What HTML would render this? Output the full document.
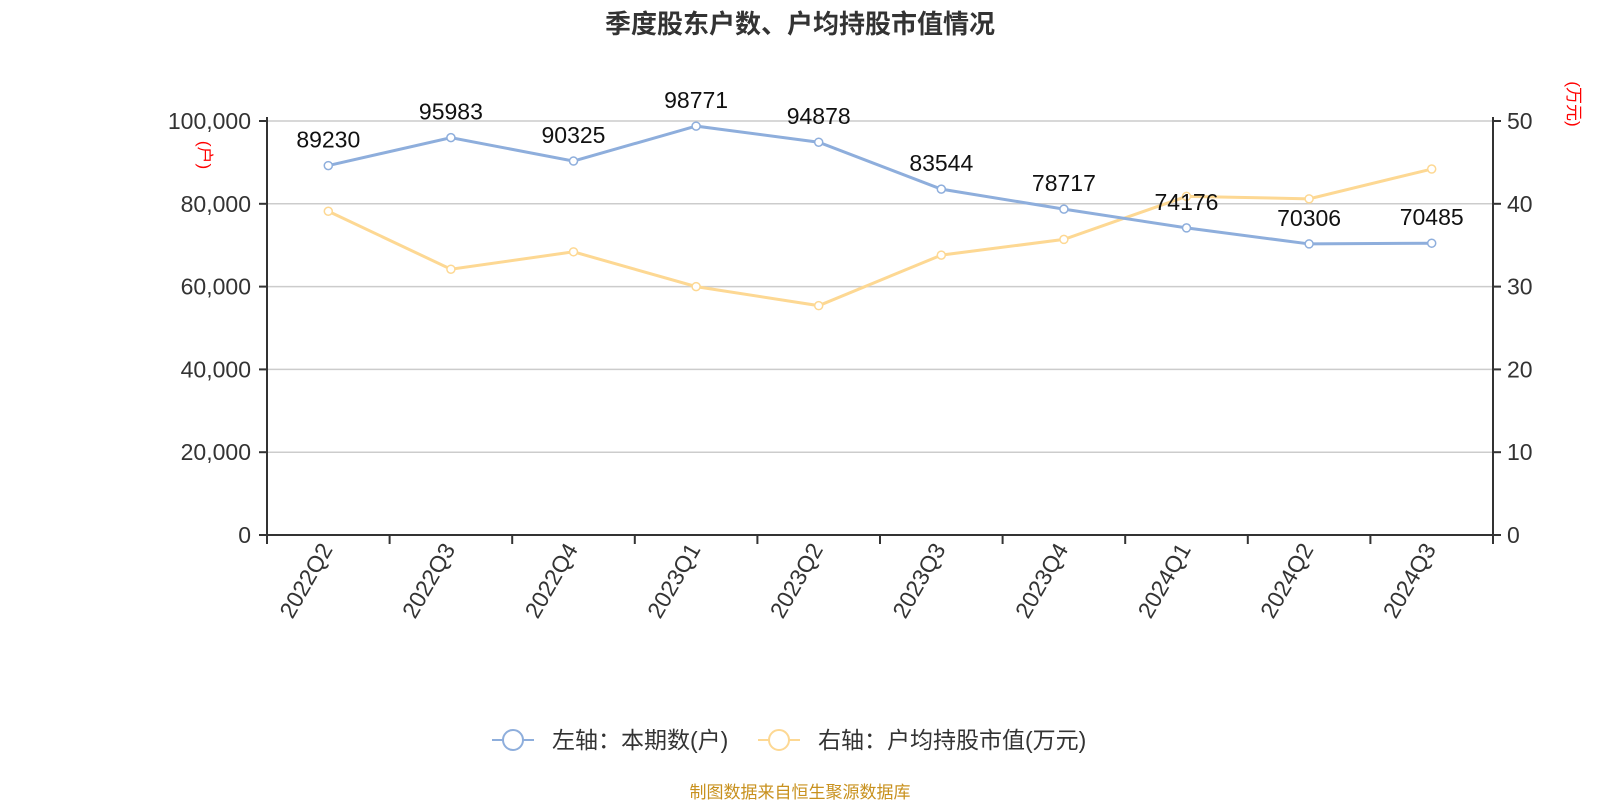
<!DOCTYPE html>
<html><head><meta charset="utf-8"><style>
body{margin:0;background:#fff;width:1600px;height:800px;overflow:hidden}
text{font-family:"Liberation Sans","Noto Sans CJK SC",sans-serif}
</style></head><body>
<svg id="chart" width="1600" height="800" xmlns="http://www.w3.org/2000/svg">
<text x="800" y="33" text-anchor="middle" font-size="26" font-weight="bold" fill="#333">季度股东户数、户均持股市值情况</text>
<text transform="translate(199,155) rotate(90)" text-anchor="middle" font-size="17" fill="red">(户)</text>
<text transform="translate(1568,104) rotate(90)" text-anchor="middle" font-size="17" fill="red">(万元)</text>
<g id="grid"></g><g id="axes"></g><g id="series"></g>
<g>
<g>
<line x1="492" y1="740" x2="534" y2="740" stroke="#8eaedc" stroke-width="2"/><circle cx="513" cy="740" r="10" fill="#fff" stroke="#8eaedc" stroke-width="2"/>
<text x="552" y="748" font-size="23" fill="#333">左轴：本期数(户)</text></g>
<g>
<line x1="758" y1="740" x2="800" y2="740" stroke="#fdd893" stroke-width="2"/><circle cx="779" cy="740" r="10" fill="#fff" stroke="#fdd893" stroke-width="2"/>
<text x="818" y="748" font-size="23" fill="#333">右轴：户均持股市值(万元)</text></g>
</g>
<text x="800" y="798" text-anchor="middle" font-size="17" fill="#c8911e">制图数据来自恒生聚源数据库</text>
</svg>
<script>
const categories=["2022Q2","2022Q3","2022Q4","2023Q1","2023Q2","2023Q3","2023Q4","2024Q1","2024Q2","2024Q3"];
const households=[89230,95983,90325,98771,94878,83544,78717,74176,70306,70485];
const avgValue=[39.1,32.1,34.2,30.0,27.7,33.8,35.7,40.9,40.6,44.2];
const leftTicks=[0,20000,40000,60000,80000,100000];
const rightTicks=[0,10,20,30,40,50];
const NS="http://www.w3.org/2000/svg";
const X0=267,X1=1493,Y0=535,Y1=121;
const bw=(X1-X0)/categories.length;
const x=i=>X0+bw*(i+0.5);
const yL=v=>Y0-(v/100000)*(Y0-Y1);
const yR=v=>Y0-(v/50)*(Y0-Y1);
function mk(tag,attrs,parent,txt){const e=document.createElementNS(NS,tag);for(const k in attrs)e.setAttribute(k,attrs[k]);if(txt!=null)e.textContent=txt;parent.appendChild(e);return e;}
const grid=document.getElementById('grid'),axes=document.getElementById('axes'),ser=document.getElementById('series');
leftTicks.forEach((t,i)=>{const y=yL(t);
 if(t>0){const g=mk('line',{x1:X0,x2:X1,y1:y,y2:y,stroke:'#ccc','stroke-width':1.5},grid);
 
 }
 mk('line',{x1:X0-8,x2:X0,y1:y,y2:y,stroke:'#333','stroke-width':2},axes);
 const l=mk('text',{x:X0-16,y:y+8,'text-anchor':'end','font-size':23,fill:'#333'},axes,t.toLocaleString('en-US'));
 
 
});
rightTicks.forEach(t=>{const y=yR(t);
 mk('line',{x1:X1,x2:X1+8,y1:y,y2:y,stroke:'#333','stroke-width':2},axes);
 const l=mk('text',{x:X1+14,y:y+8,'font-size':23,fill:'#333'},axes,String(t));
 
 
});
mk('line',{x1:X0,x2:X0,y1:Y1-4,y2:Y0,stroke:'#333','stroke-width':2},axes);
mk('line',{x1:X1,x2:X1,y1:Y1-4,y2:Y0,stroke:'#333','stroke-width':2},axes);
mk('line',{x1:X0,x2:X1,y1:Y0,y2:Y0,stroke:'#333','stroke-width':2},axes);
for(let i=0;i<=categories.length;i++){const xx=X0+bw*i;mk('line',{x1:xx,x2:xx,y1:Y0,y2:Y0+9,stroke:'#333','stroke-width':2},axes);}
categories.forEach((c,i)=>{const l=mk('text',{transform:`translate(${x(i)+5},${Y0+14}) rotate(-60)`,'text-anchor':'end','font-size':23,fill:'#333'},axes,c);
 
 });
function line(vals,fy,color,name,labels){
 const p=mk('polyline',{points:vals.map((v,i)=>x(i)+','+fy(v)).join(' '),fill:'none',stroke:color,'stroke-width':3},ser);
 
 
 vals.forEach((v,i)=>{const c=mk('circle',{cx:x(i),cy:fy(v),r:4,fill:'#fff',stroke:color,'stroke-width':1.5},ser);
  
  
  if(labels){const t=mk('text',{x:x(i),y:fy(v)-18,'text-anchor':'middle','font-size':23,fill:'#111'},ser,String(v));
   
   }
 });
}
line(avgValue,yR,'#fdd893','avg-value',false);
line(households,yL,'#8eaedc','households',true);
</script>
</body></html>
